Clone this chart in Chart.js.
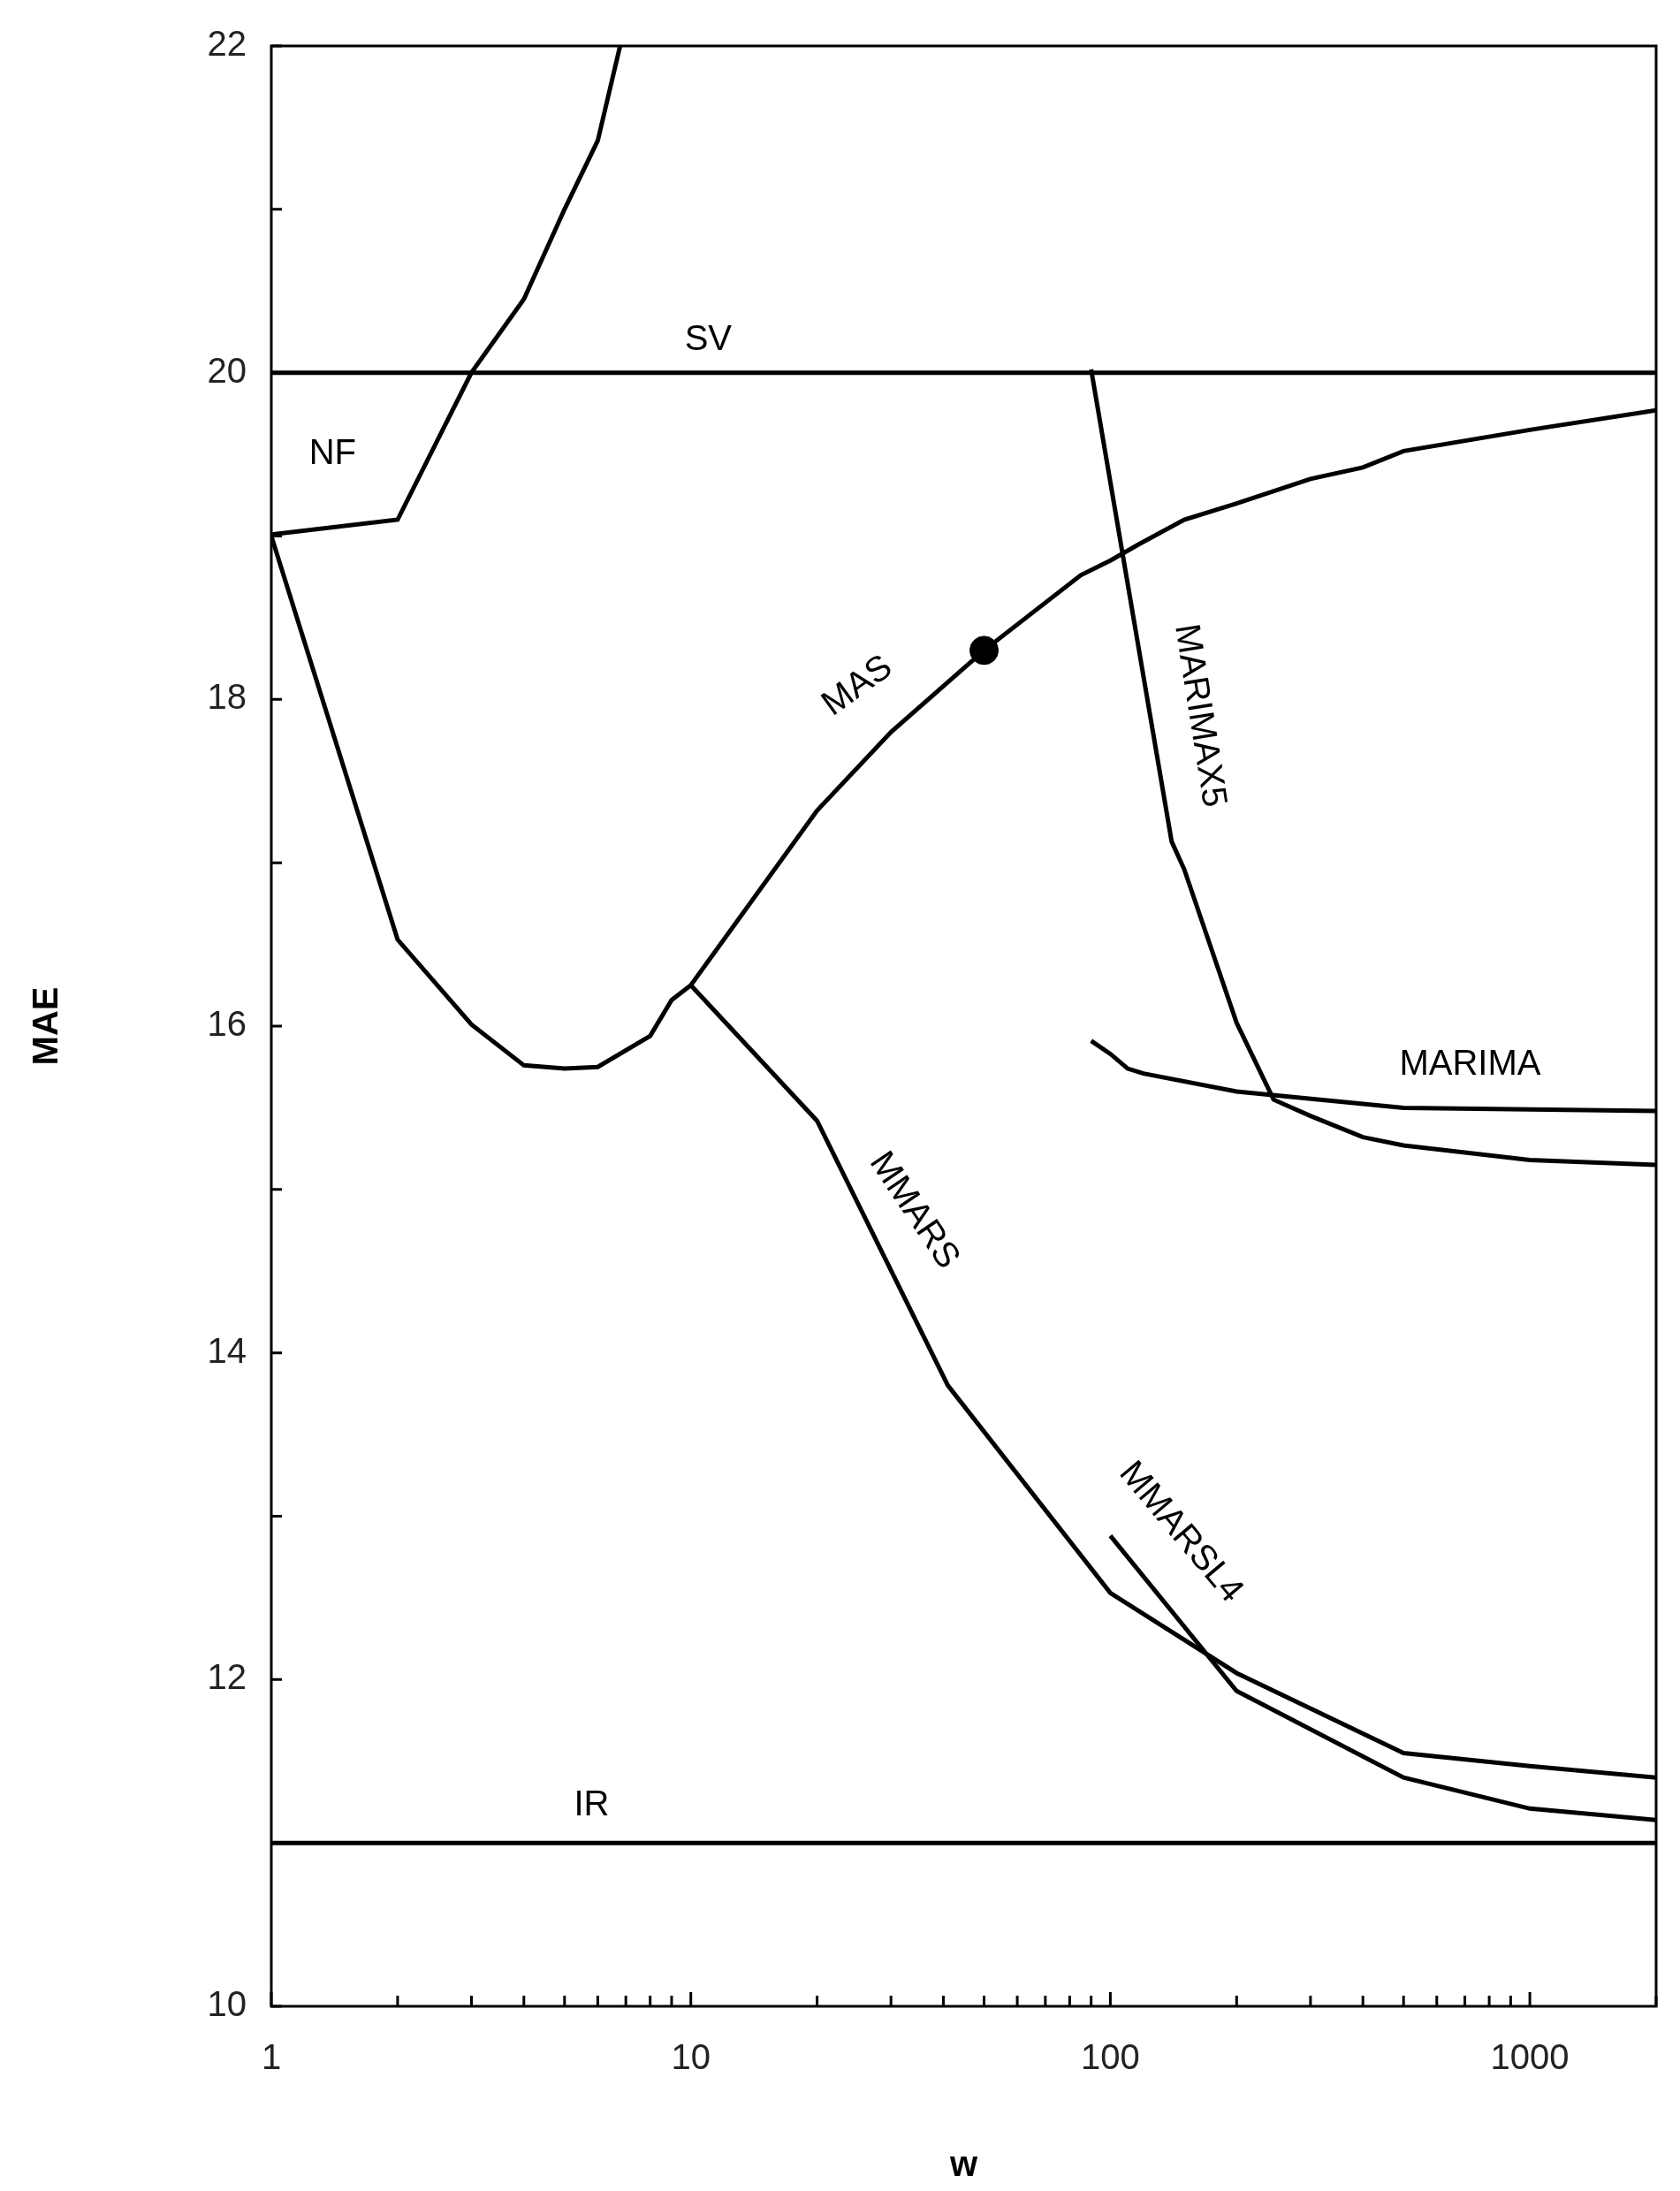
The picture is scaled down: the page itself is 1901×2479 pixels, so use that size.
<!DOCTYPE html>
<html>
<head>
<meta charset="utf-8">
<script src="https://cdn.jsdelivr.net/npm/chart.js@4.4.1/dist/chart.umd.min.js"></script>
<style>
  html, body { margin: 0; padding: 0; background: #fff; }
  #wrap { width: 1901px; height: 2479px; }
</style>
</head>
<body>
<div id="wrap"><canvas id="chart"></canvas></div>
<script>
// curves (x = w, y = MAE)
var nfW = [1, 2, 3, 4, 5, 6, 7];
var nfMae = [19.01, 19.1, 20.0, 20.45, 21.0, 21.42, 22.15];

var masW = [1, 2, 3, 4, 5, 6, 8, 9, 10, 20, 30, 50, 85, 100, 117, 150, 200, 300, 400, 500, 1000, 2000];
var masMae = [19.0, 16.53, 16.01, 15.76, 15.74, 15.75, 15.94, 16.16, 16.25, 17.32, 17.8, 18.3, 18.76, 18.85, 18.95, 19.1, 19.2, 19.35, 19.42, 19.52, 19.65, 19.77];

var mmarsW = [10, 20, 41, 100, 200, 500, 1000, 2000];
var mmarsMae = [16.25, 15.42, 13.8, 12.53, 12.04, 11.55, 11.47, 11.4];

var mmarsl4W = [100, 200, 500, 1000, 2000];
var mmarsl4Mae = [12.88, 11.93, 11.4, 11.21, 11.14];

var marimax5W = [90, 140, 150, 200, 245, 300, 400, 500, 1000, 2000];
var marimax5Mae = [20.02, 17.13, 16.96, 16.02, 15.55, 15.45, 15.32, 15.27, 15.18, 15.15];

var marimaW = [90, 100, 110, 120, 200, 500, 2000];
var marimaMae = [15.91, 15.83, 15.74, 15.71, 15.6, 15.5, 15.48];

var svW = [1, 2000], svMae = [20, 20];
var irW = [1, 2000], irMae = [11, 11];

var dotW = [50], dotMae = [18.3];

var xTickValues = [1, 10, 100, 1000];

// curve labels: text, w, MAE, rotation (deg)
var labelText = ['NF', 'SV', 'IR', 'MAS', 'MARIMAX5', 'MARIMA', 'MMARS', 'MMARSL4'];
var labelW = [1.4, 11, 5.8, 25, 163, 720, 34, 147];
var labelMae = [19.5, 20.2, 11.23, 18.08, 17.9, 15.76, 14.87, 12.9];
var labelRot = [0, 0, 0, -36, 81, 0, 56, 50];

function pts(xs, ys) {
    return xs.map(function (x, i) { return { x: x, y: ys[i] }; });
}

function lineSet(xs, ys) {
    return {
        data: pts(xs, ys),
        borderColor: '#000',
        borderWidth: 5,
        pointRadius: 0,
        fill: false,
        tension: 0
    };
}

var frameAndLabels = {
    id: 'frameAndLabels',
    afterDatasetsDraw: function (chart) {
        var ctx = chart.ctx, a = chart.chartArea;
        var xs = chart.scales.x, ys = chart.scales.y;
        ctx.save();
        ctx.strokeStyle = '#000';
        ctx.lineWidth = 3;
        ctx.strokeRect(a.left, a.top, a.right - a.left, a.bottom - a.top);
        ctx.beginPath();
        for (var v = 10; v <= 22; v++) {
            var py = ys.getPixelForValue(v);
            ctx.moveTo(a.left, py);
            ctx.lineTo(a.left + 12, py);
        }
        for (var d = 1; d <= 1000; d *= 10) {
            for (var m = 1; m <= 9; m++) {
                var val = d * m;
                if (val > 2000) break;
                var px = xs.getPixelForValue(val);
                ctx.moveTo(px, a.bottom);
                ctx.lineTo(px, a.bottom - (m === 1 ? 16 : 12));
            }
        }
        ctx.stroke();

        ctx.fillStyle = '#000';
        ctx.font = '40px "Liberation Sans", Arial, sans-serif';
        ctx.textAlign = 'center';
        ctx.textBaseline = 'middle';
        labelText.forEach(function (t, i) {
            ctx.save();
            ctx.translate(xs.getPixelForValue(labelW[i]), ys.getPixelForValue(labelMae[i]));
            ctx.rotate(labelRot[i] * Math.PI / 180);
            ctx.fillText(t, 0, 0);
            ctx.restore();
        });
        ctx.restore();
    }
};

var datasets = [
    lineSet(nfW, nfMae),
    lineSet(masW, masMae),
    lineSet(mmarsW, mmarsMae),
    lineSet(mmarsl4W, mmarsl4Mae),
    lineSet(marimax5W, marimax5Mae),
    lineSet(marimaW, marimaMae),
    lineSet(svW, svMae),
    lineSet(irW, irMae),
    {
        data: pts(dotW, dotMae),
        showLine: false,
        pointRadius: 16,
        pointBackgroundColor: '#000',
        pointBorderColor: '#000'
    }
];

var config = {
    type: 'line',
    data: { datasets: datasets },
    plugins: [frameAndLabels],
    options: {
        responsive: true,
        maintainAspectRatio: false,
        animation: false,
        layout: { padding: { top: 51, right: 27, left: 0, bottom: 0 } },
        plugins: {
            legend: { display: false },
            tooltip: { enabled: false }
        },
        scales: {
            x: {
                type: 'logarithmic',
                min: 1,
                max: 2000,
                afterBuildTicks: function (scale) {
                    scale.ticks = xTickValues.map(function (v) { return { value: v }; });
                },
                afterFit: function (scale) { scale.height = 209; },
                grid: { display: false, drawTicks: false },
                border: { display: false },
                ticks: {
                    color: '#222',
                    padding: 36,
                    maxRotation: 0,
                    autoSkip: false,
                    font: { family: '"Liberation Sans", Arial, sans-serif', size: 40 },
                    callback: function (v) { return String(v); }
                },
                title: {
                    display: true,
                    text: 'w',
                    color: '#000',
                    padding: { top: 40 },
                    font: { family: '"Liberation Sans", Arial, sans-serif', size: 40, weight: 'bold' }
                }
            },
            y: {
                min: 10,
                max: 22,
                afterFit: function (scale) { scale.width = 307; },
                grid: { display: false, drawTicks: false },
                border: { display: false },
                ticks: {
                    stepSize: 2,
                    color: '#222',
                    padding: 28,
                    font: { family: '"Liberation Sans", Arial, sans-serif', size: 40 }
                },
                title: {
                    display: true,
                    text: 'MAE',
                    color: '#000',
                    padding: { top: 30 },
                    font: { family: '"Liberation Sans", Arial, sans-serif', size: 40, weight: 'bold' }
                }
            }
        }
    }
};

new Chart(document.getElementById('chart').getContext('2d'), config);
</script>
</body>
</html>
